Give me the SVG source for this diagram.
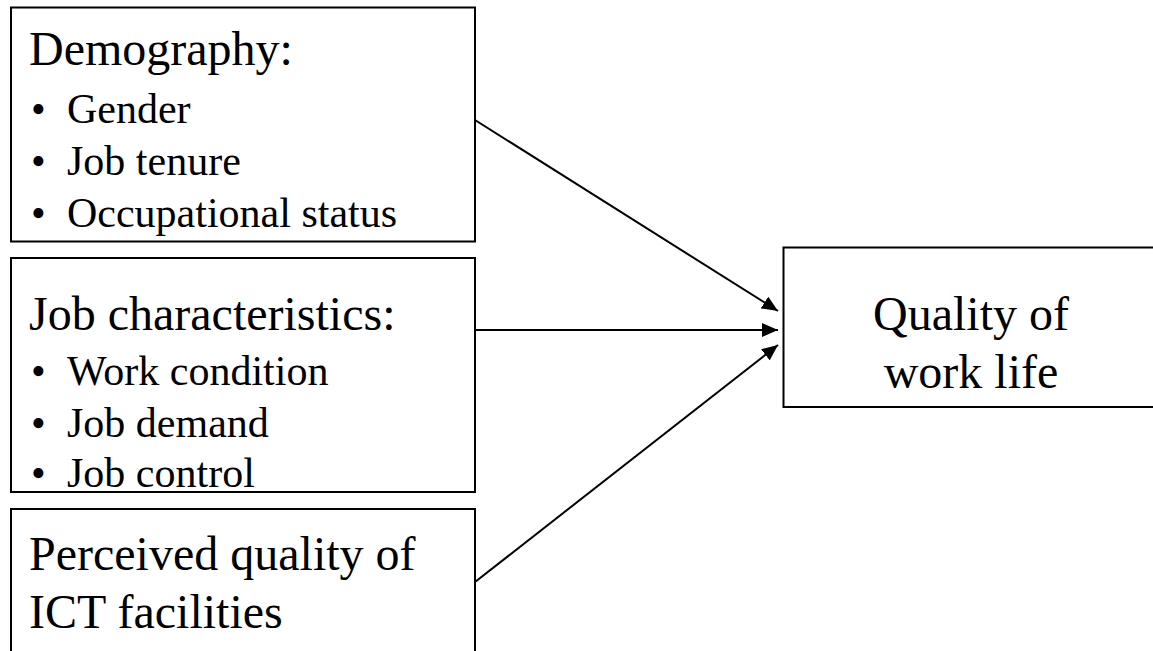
<svg xmlns="http://www.w3.org/2000/svg" width="1153" height="651" viewBox="0 0 1153 651">
  <style>
    .box { fill: #ffffff; stroke: #000000; stroke-width: 2; }
    .head { font-family: "Liberation Serif", "Times New Roman", serif; font-size: 48px; fill: #000000; }
    .item { font-family: "Liberation Serif", "Times New Roman", serif; font-size: 42px; fill: #000000; }
    .link { fill: none; stroke: #000000; stroke-width: 2; }
  </style>
  <defs>
    <marker id="arrow" viewBox="0 0 16 14" refX="16" refY="7" markerWidth="16" markerHeight="14" markerUnits="userSpaceOnUse" orient="auto">
      <path d="M0,0 L16,7 L0,14 Z" fill="#000000"/>
    </marker>
  </defs>
  <rect width="1153" height="651" fill="#ffffff"/>

  <g id="demography">
    <rect class="box" x="11" y="7.5" width="464" height="234"/>
    <text class="head" x="29" y="65">Demography:</text>
    <text class="item" x="31" y="123">•</text>
    <text class="item" x="67" y="123">Gender</text>
    <text class="item" x="31" y="175">•</text>
    <text class="item" x="67" y="175">Job tenure</text>
    <text class="item" x="31" y="227">•</text>
    <text class="item" x="67" y="227">Occupational status</text>
  </g>

  <g id="job-characteristics">
    <rect class="box" x="11" y="258" width="464" height="234"/>
    <text class="head" x="29" y="330">Job characteristics:</text>
    <text class="item" x="31" y="385">•</text>
    <text class="item" x="67" y="385">Work condition</text>
    <text class="item" x="31" y="437">•</text>
    <text class="item" x="67" y="437">Job demand</text>
    <text class="item" x="31" y="487">•</text>
    <text class="item" x="67" y="487">Job control</text>
  </g>

  <g id="ict-facilities">
    <rect class="box" x="11" y="509" width="464" height="200"/>
    <text class="head" x="29" y="570">Perceived quality of</text>
    <text class="head" x="29" y="628">ICT facilities</text>
  </g>

  <g id="quality-of-work-life">
    <rect class="box" x="783.5" y="247.5" width="420" height="159.5"/>
    <text class="head" x="971" y="330" text-anchor="middle">Quality of</text>
    <text class="head" x="971" y="388" text-anchor="middle">work life</text>
  </g>

  <g id="connectors">
    <line class="link" x1="475" y1="120" x2="778" y2="311" marker-end="url(#arrow)"/>
    <line class="link" x1="475" y1="330" x2="778" y2="330" marker-end="url(#arrow)"/>
    <line class="link" x1="475" y1="582" x2="778" y2="345" marker-end="url(#arrow)"/>
  </g>
</svg>
